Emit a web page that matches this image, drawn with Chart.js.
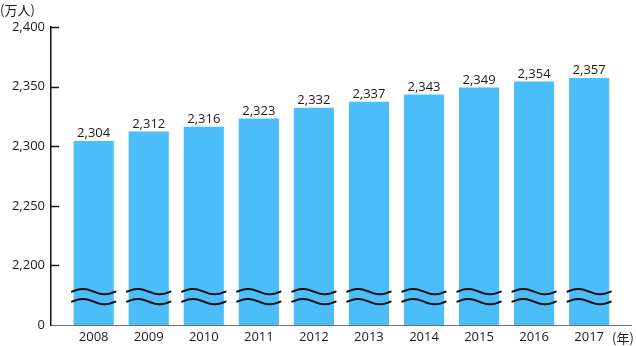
<!DOCTYPE html>
<html>
<head>
<meta charset="utf-8">
<script src="https://cdn.jsdelivr.net/npm/chart.js@4/dist/chart.umd.min.js"></script>
<style>
  html, body { margin: 0; padding: 0; background: #fff; }
  #wrap { width: 636px; height: 346px; position: relative; }
</style>
</head>
<body>
<div id="wrap"><canvas id="c" width="636" height="346"></canvas></div>
<script>
// Population by year (万人)
const years = [2008, 2009, 2010, 2011, 2012, 2013, 2014, 2015, 2016, 2017];
const population = [2304, 2312, 2316, 2323, 2332, 2337, 2343, 2349, 2354, 2357];
// Y axis: the lowest tick stands for 0 (axis is broken below 2,200)
const yTicks = [2150, 2200, 2250, 2300, 2350, 2400];
const yTickLabels = ['0', '2,200', '2,250', '2,300', '2,350', '2,400'];

const TEXT = '#231815';
const FONT = '"Open Sans", "Noto Sans", sans-serif';
const CJK = '"Noto Sans CJK JP", "Noto Sans", sans-serif';

const fmt = v => v.toLocaleString('en-US');

// Value labels above bars, wave break marks, inward ticks and unit captions
const decorations = {
  id: 'decorations',
  afterDatasetsDraw(chart) {
    const ctx = chart.ctx;
    const meta = chart.getDatasetMeta(0);
    const ys = chart.scales.y;
    const area = chart.chartArea;
    ctx.save();

    // value labels
    ctx.font = '13px ' + FONT;
    ctx.fillStyle = TEXT;
    ctx.textAlign = 'center';
    ctx.textBaseline = 'alphabetic';
    meta.data.forEach((bar, i) => {
      ctx.fillText(fmt(population[i]), bar.x, bar.y - 4);
    });

    // wave break marks across every bar
    const waveYs = [ys.getPixelForValue(2178), ys.getPixelForValue(2169.6)];
    ctx.strokeStyle = '#111';
    ctx.lineWidth = 2;
    ctx.lineCap = 'round';
    meta.data.forEach(bar => {
      const half = bar.width / 2;
      const x0 = bar.x - half - 2, x1 = bar.x + half + 2;
      waveYs.forEach(yc => {
        ctx.beginPath();
        const n = 40;
        for (let k = 0; k <= n; k++) {
          const t = k / n;
          const px = x0 + (x1 - x0) * t;
          const py = yc - 2.6 * Math.sin(2 * Math.PI * t);
          if (k === 0) ctx.moveTo(px, py); else ctx.lineTo(px, py);
        }
        ctx.stroke();
      });
    });

    // inward tick marks on the y axis
    ctx.strokeStyle = '#111';
    ctx.lineWidth = 1.5;
    ctx.lineCap = 'butt';
    yTicks.slice(1).forEach(v => {
      const py = Math.round(ys.getPixelForValue(v)) + 0.5;
      ctx.beginPath();
      ctx.moveTo(area.left, py);
      ctx.lineTo(area.left + 8, py);
      ctx.stroke();
    });

    // unit captions
    ctx.fillStyle = TEXT;
    ctx.font = '13px ' + CJK;
    ctx.textAlign = 'left';
    ctx.textBaseline = 'middle';
    ctx.fillText('(万人)', 0, 10);
    ctx.fillText('(年)', area.right - 19, area.bottom + 13);
    ctx.restore();
  }
};

new Chart(document.getElementById('c'), {
  type: 'bar',
  data: {
    datasets: [{
      data: years.map((yr, i) => ({ x: yr, y: population[i] })),
      backgroundColor: '#4bbdf9',
      borderWidth: 0,
      barThickness: 39.5
    }]
  },
  options: {
    responsive: false,
    animation: false,
    layout: { padding: { top: 27, right: 5, left: 0, bottom: 0 } },
    plugins: {
      legend: { display: false },
      tooltip: { enabled: false }
    },
    scales: {
      x: {
        type: 'linear',
        offset: false,
        min: 2007.225,
        max: 2017.76,
        afterBuildTicks: s => { s.ticks = years.map(v => ({ value: v })); },
        afterFit: s => { s.height = 21; },
        grid: { display: false, drawTicks: false, offset: false },
        border: { display: true, color: '#6e6e6e', width: 1 },
        ticks: {
          autoSkip: false,
          maxRotation: 0,
          padding: 4,
          color: TEXT,
          font: { family: FONT, size: 13 },
          callback: v => String(v)
        }
      },
      y: {
        min: 2150,
        max: 2400,
        afterBuildTicks: s => { s.ticks = yTicks.map(v => ({ value: v })); },
        afterFit: s => { s.width = 51; },
        grid: { display: false, drawTicks: false },
        border: { display: true, color: '#111', width: 1.5 },
        ticks: {
          padding: 6,
          color: TEXT,
          font: { family: FONT, size: 13 },
          callback: v => yTickLabels[yTicks.indexOf(v)]
        }
      }
    }
  },
  plugins: [decorations]
});
</script>
</body>
</html>
